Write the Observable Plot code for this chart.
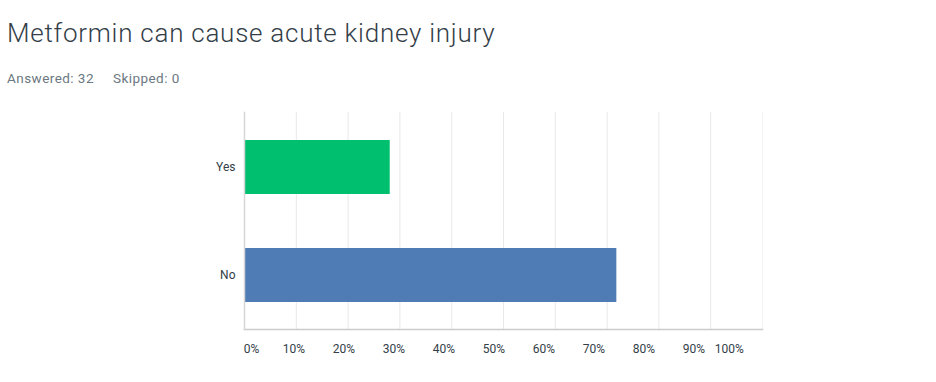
<!DOCTYPE html>
<html>
<head>
<meta charset="utf-8">
<script src="https://cdn.jsdelivr.net/npm/d3@7"></script>
<script src="https://cdn.jsdelivr.net/npm/@observablehq/plot@0.6"></script>
<style>
  html, body { margin: 0; padding: 0; background: #fff; }
  #wrap { position: relative; width: 936px; height: 382px; overflow: hidden; }
  #title { position: absolute; left: 7px; top: 18px; font-family: Roboto, "Open Sans", sans-serif; font-weight: 300; font-size: 26px; color: #333e48; white-space: nowrap; letter-spacing: 0.75px; }
  #sub { position: absolute; left: 7px; top: 70px; font-family: Roboto, "Open Sans", sans-serif; font-size: 13.5px; color: #6b787f; white-space: nowrap; letter-spacing: 0.45px; }
  #sub span + span { margin-left: 19px; }
  .layer { position: absolute; left: 0; top: 100px; }
</style>
</head>
<body>
<div id="wrap">
  <div id="title">Metformin can cause acute kidney injury</div>
  <div id="sub"><span>Answered: 32</span><span>Skipped: 0</span></div>
  <div id="chart" class="layer"></div>
  <div id="labels" class="layer"></div>
</div>
<script>
const answers = ["Yes", "No"];
const percents = [28.13, 71.88];
const barColors = ["#00bf6f", "#507cb6"];
const gridTicks = [10, 20, 30, 40, 50, 60, 70, 80, 90, 100];
const tickLabels = [0, 10, 20, 30, 40, 50, 60, 70, 80, 90, 100];

const rows = answers.map((a, i) => ({answer: a, pct: percents[i], color: barColors[i]}));

const W = 936, H = 282;
const font = {fontFamily: "Roboto, 'Open Sans', sans-serif", fontSize: "12px", color: "#333e48", background: "transparent"};

const chart = Plot.plot({
  width: W,
  height: H,
  marginLeft: 244,
  marginRight: 174,
  marginTop: 12,
  marginBottom: 53,
  style: font,
  x: {domain: [0, 100], axis: null},
  y: {domain: answers, paddingInner: 0.5, paddingOuter: 0.25, label: null},
  marks: [
    Plot.ruleX(gridTicks, {stroke: d => d === 100 ? "#f4f4f4" : "#e8e8e8", strokeWidth: 1}),
    Plot.barX(rows, {x: "pct", y: "answer", fill: "color", inset: 0}),
    Plot.frame({anchor: "bottom", stroke: "#cccccc", strokeWidth: 1.5}),
    Plot.frame({anchor: "left", stroke: "#d6d6d6", strokeWidth: 1.5}),
    Plot.axisY({tickSize: 0, tickPadding: 9, fontSize: 12, label: null})
  ]
});
document.getElementById("chart").appendChild(chart);

// Tick labels: laid out on their own 500px scale, as in the reference
const labelY = () => 248.5;
const labelText = d => d + "%";
document.getElementById("labels").appendChild(Plot.plot({
  width: W,
  height: H,
  marginLeft: 243.3,
  marginRight: W - 743.3,
  marginTop: 0,
  marginBottom: 0,
  style: font,
  x: {domain: [0, 100], axis: null},
  y: {domain: [0, H], range: [0, H], axis: null},
  marks: [
    Plot.text(tickLabels.filter(d => d === 0), {x: d => d, y: labelY, text: labelText, textAnchor: "start", fill: "#333e48"}),
    Plot.text(tickLabels.filter(d => d > 0 && d < 100), {x: d => d, y: labelY, text: labelText, textAnchor: "middle", fill: "#333e48"}),
    Plot.text(tickLabels.filter(d => d === 100), {x: d => d, y: labelY, text: labelText, textAnchor: "end", fill: "#333e48"})
  ]
}));
</script>
</body>
</html>
